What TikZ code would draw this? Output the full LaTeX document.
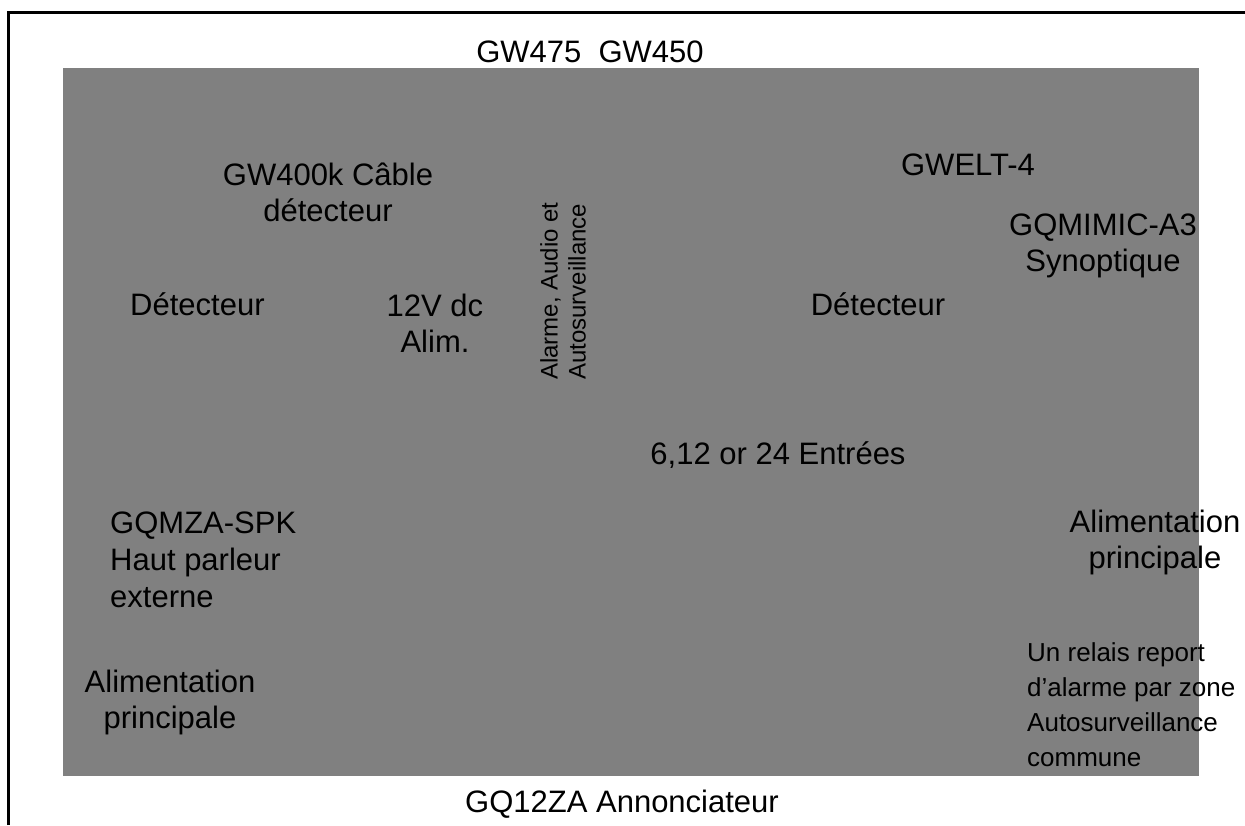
\documentclass[tikz,border=0pt]{standalone}
\usepackage{fontspec}
\setmainfont{Liberation Sans}
\usepackage{tikz}
\definecolor{panelgray}{HTML}{808080}

\begin{document}
\begin{tikzpicture}[x=1pt,y=1pt,
    every node/.style={inner sep=0pt,font=\fontsize{31}{36}\selectfont},
    smalltxt/.style={font=\fontsize{26}{35}\selectfont},
    sidetxt/.style={font=\fontsize{24}{28}\selectfont,rotate=90,align=left}]
  \useasboundingbox (0,0) rectangle (1245,825);
  \fill[panelgray] (63,49) rectangle (1199,757);
  \draw[line width=3pt] (8.5,0) |- (1245,812);
  \node[anchor=base] (models) at (590,762) {GW475~\ GW450};
  \node[anchor=base,align=center] (cable) at (328,603) {GW400k Câble\\détecteur};
  \node[anchor=base west] (detleft) at (130,509) {Détecteur};
  \node[anchor=base,align=center] (psu) at (435,472) {12V dc\\Alim.};
  \node[sidetxt,anchor=west] (signals) at (563,445) {Alarme, Audio et\\Autosurveillance};
  \node[anchor=base] (detright) at (878,509) {Détecteur};
  \node[anchor=base] (elt) at (968,649) {GWELT-4};
  \node[anchor=base,align=center] (mimic) at (1103,553) {GQMIMIC-A3\\Synoptique};
  \node[anchor=base] (inputs) at (778,360) {6,12 or 24 Entrées};
  \node[anchor=base west,align=left,font=\fontsize{31}{37}\selectfont] (speaker) at (110,217)
    {GQMZA-SPK\\Haut parleur\\externe};
  \node[anchor=base,align=center] (mainsleft) at (170,96) {Alimentation\\principale};
  \node[anchor=base,align=center] (mainsright) at (1155,256) {Alimentation\\principale};
  \node[smalltxt,anchor=base west,align=left] (relay) at (1027,59)
    {Un relais report\\d’alarme par zone\\Autosurveillance\\commune};
  \node[anchor=base] (annunciator) at (622,13) {GQ12ZA Annonciateur};
\end{tikzpicture}
\end{document}
